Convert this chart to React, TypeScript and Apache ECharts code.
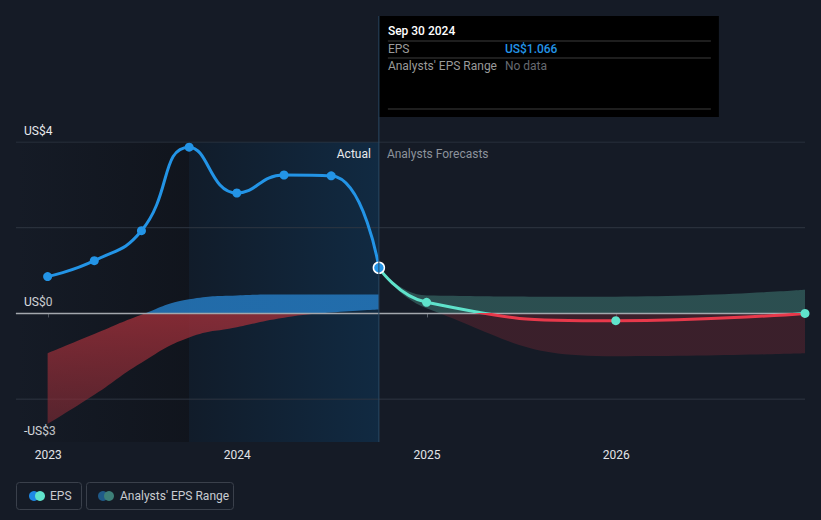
import React, { useEffect, useRef } from "react";
import * as echarts from "echarts";

const actualDates = ["2022-12-31", "2023-03-31", "2023-06-30", "2023-09-30", "2023-12-31", "2024-03-31", "2024-06-30", "2024-09-30"];
const actualEps = [0.86, 1.23, 1.93, 3.88, 2.81, 3.23, 3.21, 1.066];
const pastRangeLow = [-2.58, -1.9, -1.15, -0.56, -0.32, -0.1, 0.02, 0.09];
const pastRangeHigh = [-0.93, -0.48, -0.03, 0.33, 0.42, 0.44, 0.44, 0.44];

const forecastDates = ["2024-09-30", "2024-12-31", "2025-12-31", "2026-12-31"];
const forecastEps = [1.066, 0.26, -0.17, 0.0];
const forecastLow = [1.066, 0.12, -1.0, -0.93];
const forecastHigh = [1.066, 0.42, 0.39, 0.55];

const yTickValues = [4, 0, -3];
const yTickLabels = ["US$4", "US$0", "-US$3"];
const gridValues = [4, 2, -2];

const xMin = "2022-10-31";
const xMax = "2026-12-31";
const darkStart = "2023-09-30";
const markerDate = "2024-09-30";
const yMin = -3;
const yMax = 4;

const FONT = "Roboto, 'Noto Sans', sans-serif";
const BG = "#151b26";
const BLUE = "#2394e6";
const CYAN = "#5fe3cb";
const RED = "#e8394b";

const GRID_LEFT = 16;
const GRID_RIGHT = 16;
const GRID_TOP = 142;
const GRID_BOTTOM = 78;
const H = 520;
const W = 821;

function ts(d: string) {
  return new Date(d + "T00:00:00").getTime();
}

export default function App() {
  const ref = useRef<HTMLDivElement>(null);
  useEffect(() => {
    const chart = echarts.init(ref.current!, null, { renderer: "svg" });
    const gTop = GRID_TOP;
    const gBot = H - GRID_BOTTOM;
    const zeroOff = (yMax - 0) / (yMax - yMin);

    const pastFill = new echarts.graphic.LinearGradient(0, gTop, 0, gBot, [
      { offset: 0, color: "rgba(36,118,186,0.88)" },
      { offset: zeroOff, color: "rgba(36,118,186,0.88)" },
      { offset: zeroOff, color: "rgba(150,46,56,0.85)" },
      { offset: 1, color: "rgba(140,44,54,0.5)" },
    ], true);
    const fcFill = new echarts.graphic.LinearGradient(0, gTop, 0, gBot, [
      { offset: 0, color: "rgba(66,130,122,0.5)" },
      { offset: zeroOff, color: "rgba(66,130,122,0.5)" },
      { offset: zeroOff, color: "rgba(96,36,48,0.5)" },
      { offset: 1, color: "rgba(96,36,48,0.5)" },
    ], true);

    const gridSeries = gridValues.map((v) => ({
      type: "line",
      z: 1,
      silent: true,
      symbol: "none",
      data: [[ts(xMin), v], [ts(xMax), v]],
      lineStyle: { color: "#2f3642", width: 1 },
    }));

    const bandBase = {
      type: "line",
      z: 2,
      silent: true,
      smooth: true,
      symbol: "none",
      stackStrategy: "all",
      lineStyle: { opacity: 0, width: 0 },
    };

    const series: any[] = [
      {
        type: "line",
        name: "bg",
        z: 0,
        silent: true,
        symbol: "none",
        data: [[ts(xMin), 0], [ts(xMax), 0]],
        lineStyle: { opacity: 0 },
        markArea: {
          silent: true,
          data: [
            [
              {
                xAxis: ts(xMin),
                itemStyle: {
                  color: new echarts.graphic.LinearGradient(0, 0, 1, 0, [
                    { offset: 0, color: "rgba(16,20,28,0)" },
                    { offset: 1, color: "rgba(16,20,28,0.9)" },
                  ]),
                },
              },
              { xAxis: ts(darkStart) },
            ],
            [
              {
                xAxis: ts(darkStart),
                itemStyle: {
                  color: new echarts.graphic.LinearGradient(0, 0, 1, 0, [
                    { offset: 0, color: "#111c2a" },
                    { offset: 1, color: "#112a42" },
                  ]),
                },
              },
              { xAxis: ts(markerDate) },
            ],
          ],
        },
      },
      ...gridSeries,
      {
        ...bandBase,
        name: "pastLow",
        stack: "past",
        data: actualDates.map((d, i) => [ts(d), pastRangeLow[i]]),
      },
      {
        ...bandBase,
        name: "pastHigh",
        stack: "past",
        data: actualDates.map((d, i) => [ts(d), pastRangeHigh[i] - pastRangeLow[i]]),
        areaStyle: { color: pastFill, opacity: 1 },
      },
      {
        ...bandBase,
        name: "fcLow",
        stack: "fc",
        data: forecastDates.map((d, i) => [ts(d), forecastLow[i]]),
      },
      {
        ...bandBase,
        name: "fcHigh",
        stack: "fc",
        data: forecastDates.map((d, i) => [ts(d), forecastHigh[i] - forecastLow[i]]),
        areaStyle: { color: fcFill, opacity: 1 },
      },
      {
        type: "line",
        name: "zero",
        z: 3,
        silent: true,
        symbol: "none",
        data: [[ts(xMin), 0], [ts(xMax), 0]],
        lineStyle: { color: "#a3a7ad", width: 1.5 },
      },
    ];

    const fcLineIndex = series.length;
    series.push({
      type: "line",
      name: "EPS forecast",
      z: 4,
      smooth: true,
      showSymbol: false,
      symbol: "none",
      data: forecastDates.map((d, i) => [ts(d), forecastEps[i]]),
      lineStyle: { width: 3 },
    });
    series.push({
      type: "scatter",
      name: "EPS forecast points",
      z: 5,
      symbolSize: 9,
      itemStyle: { color: CYAN, opacity: 1 },
      data: forecastDates.slice(1).map((d, i) => [ts(d), forecastEps[i + 1]]),
    });
    series.push({
      type: "line",
      name: "EPS",
      z: 6,
      smooth: true,
      symbol: "circle",
      symbolSize: 9,
      itemStyle: { color: BLUE },
      lineStyle: { color: BLUE, width: 3 },
      data: actualDates.map((d, i) =>
        i === actualDates.length - 1
          ? { value: [ts(d), actualEps[i]], symbolSize: 11, itemStyle: { color: BLUE, borderColor: "#ffffff", borderWidth: 1.5 } }
          : { value: [ts(d), actualEps[i]] }
      ),
    });

    const option: any = {
      animation: false,
      backgroundColor: BG,
      textStyle: { fontFamily: FONT },
      grid: { left: GRID_LEFT, right: GRID_RIGHT, top: GRID_TOP, bottom: GRID_BOTTOM, containLabel: false },
      xAxis: {
        type: "time",
        min: ts(xMin),
        max: ts(xMax),
        splitNumber: 4,
        axisLine: { lineStyle: { color: "#3d4450", width: 1 } },
        axisTick: { show: true, length: 4, lineStyle: { color: "#5a616b" } },
        splitLine: { show: false },
        axisLabel: {
          color: "#e2e4e8",
          fontSize: 12,
          fontFamily: FONT,
          margin: 7,
          formatter: "{yyyy}",
        },
      },
      yAxis: {
        type: "value",
        min: yMin,
        max: yMax,
        interval: 1,
        axisLine: { show: false },
        axisTick: { show: false },
        splitLine: { show: false },
        axisLabel: {
          inside: true,
          margin: 8,
          color: "#e8eaed",
          fontSize: 12,
          fontFamily: FONT,
          verticalAlign: "bottom",
          padding: [0, 0, 5, 0],
          formatter: (v: number) => {
            const idx = yTickValues.indexOf(v);
            return idx >= 0 ? yTickLabels[idx] : "";
          },
        },
      },
      visualMap: [
        {
          type: "piecewise",
          show: false,
          seriesIndex: fcLineIndex,
          dimension: 1,
          pieces: [
            { gte: -100, lt: 0, color: RED },
            { gte: 0, lte: 100, color: CYAN },
          ],
        },
      ],
      series,
    };
    chart.setOption(option);

    const px = chart.convertToPixel({ xAxisIndex: 0 }, ts(markerDate)) as number;
    const boxW = 340;
    const boxTop = 16;
    const boxH = 101;
    const tx = px + 9;
    const vx = px + 126;
    const lineEnd = px + boxW - 8;
    const markerVal = actualEps[actualEps.length - 1];

    const graphic: any[] = [
      {
        type: "line",
        silent: true,
        z: 7,
        shape: { x1: px, y1: boxTop, x2: px, y2: gBot },
        style: { stroke: "#2a4864", lineWidth: 1 },
      },
      {
        type: "text",
        z: 7,
        x: px - 8,
        y: GRID_TOP + 12,
        style: { text: "Actual", fill: "#e8eaed", font: `12px ${FONT}`, align: "right", verticalAlign: "middle" },
      },
      {
        type: "text",
        z: 7,
        x: px + 8,
        y: GRID_TOP + 12,
        style: { text: "Analysts Forecasts", fill: "#8c929b", font: `12px ${FONT}`, align: "left", verticalAlign: "middle" },
      },
      {
        type: "group",
        z: 20,
        children: [
          { type: "rect", shape: { x: px, y: boxTop, width: boxW, height: boxH }, style: { fill: "#000000" } },
          { type: "text", x: tx, y: boxTop + 15, style: { text: "Sep 30 2024", fill: "#ffffff", font: `500 12px ${FONT}`, verticalAlign: "middle" } },
          { type: "line", shape: { x1: tx, y1: boxTop + 25, x2: lineEnd, y2: boxTop + 25 }, style: { stroke: "#3c3c3c", lineWidth: 1 } },
          { type: "text", x: tx, y: boxTop + 33, style: { text: "EPS", fill: "#9a9a9a", font: `12px ${FONT}`, verticalAlign: "middle" } },
          { type: "text", x: vx, y: boxTop + 33, style: { text: "US$" + markerVal.toFixed(3), fill: "#2394e6", font: `500 12px ${FONT}`, verticalAlign: "middle" } },
          { type: "line", shape: { x1: tx, y1: boxTop + 42, x2: lineEnd, y2: boxTop + 42 }, style: { stroke: "#3c3c3c", lineWidth: 1 } },
          { type: "text", x: tx, y: boxTop + 50, style: { text: "Analysts' EPS Range", fill: "#9a9a9a", font: `12px ${FONT}`, verticalAlign: "middle" } },
          { type: "text", x: vx, y: boxTop + 50, style: { text: "No data", fill: "#666a70", font: `12px ${FONT}`, verticalAlign: "middle" } },
          { type: "line", shape: { x1: tx, y1: boxTop + 93, x2: lineEnd, y2: boxTop + 93 }, style: { stroke: "#3c3c3c", lineWidth: 1 } },
        ],
      },
      {
        type: "group",
        z: 20,
        children: [
          { type: "rect", shape: { x: 16.5, y: 482.5, width: 65, height: 27, r: 3 }, style: { fill: "none", stroke: "#3a404b", lineWidth: 1 } },
          { type: "circle", shape: { cx: 34, cy: 496, r: 5 }, style: { fill: "#1e88e5" } },
          { type: "circle", shape: { cx: 40, cy: 496, r: 5 }, style: { fill: CYAN } },
          { type: "text", x: 50, y: 496, style: { text: "EPS", fill: "#c9ccd1", font: `12px ${FONT}`, verticalAlign: "middle" } },
          { type: "rect", shape: { x: 86.5, y: 482.5, width: 147, height: 27, r: 3 }, style: { fill: "none", stroke: "#3a404b", lineWidth: 1 } },
          { type: "circle", shape: { cx: 103, cy: 496, r: 5 }, style: { fill: "#1f5a88" } },
          { type: "circle", shape: { cx: 109, cy: 496, r: 5 }, style: { fill: "#3d7f78" } },
          { type: "text", x: 120, y: 496, style: { text: "Analysts' EPS Range", fill: "#c9ccd1", font: `12px ${FONT}`, verticalAlign: "middle" } },
        ],
      },
    ];
    chart.setOption({ graphic });

    return () => chart.dispose();
  }, []);
  return <div ref={ref} style={{ position: "fixed", left: 0, top: 0, width: W, height: H }} />;
}
